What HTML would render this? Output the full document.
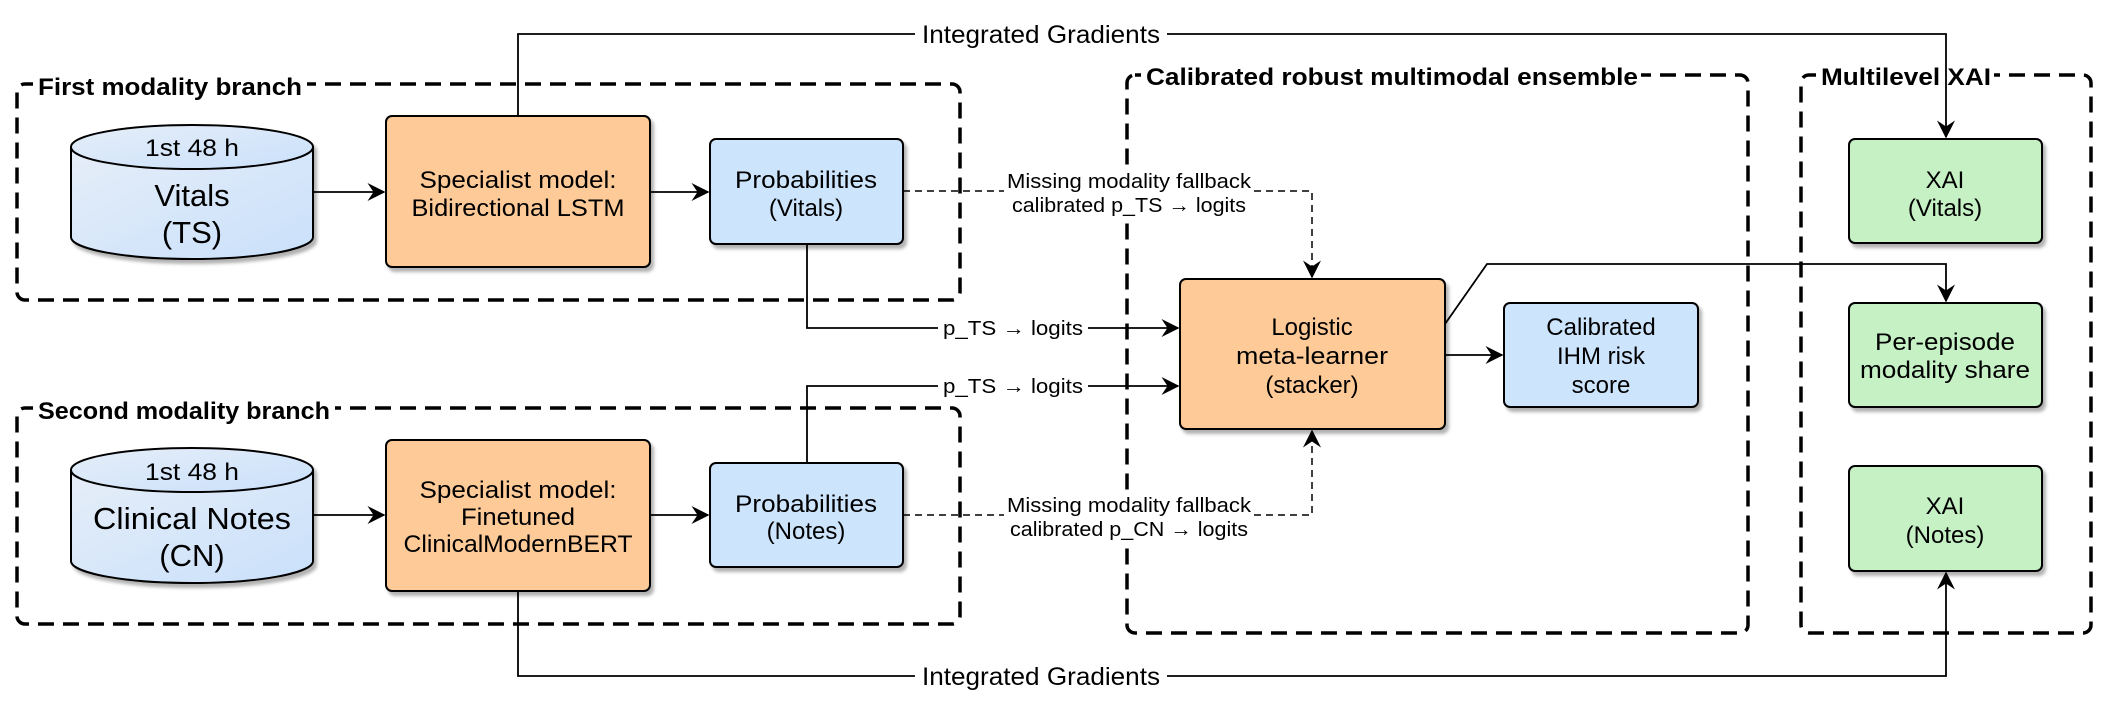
<!DOCTYPE html>
<html><head><meta charset="utf-8"><style>html,body{margin:0;padding:0;background:#fff}</style></head>
<body>
<svg width="2108" height="710" viewBox="0 0 2108 710" xmlns="http://www.w3.org/2000/svg" font-family="'Liberation Sans', 'DejaVu Sans', sans-serif">
<defs>
<linearGradient id="cyl" x1="0" y1="0" x2="1" y2="1"><stop offset="0" stop-color="#e6eef8"/><stop offset="1" stop-color="#c9e0fb"/></linearGradient>
<filter id="sh" x="-10%" y="-10%" width="130%" height="130%"><feDropShadow dx="3" dy="4" stdDeviation="1.5" flood-color="#000" flood-opacity="0.3"/></filter>
<marker id="arb" viewBox="0 0 12 12" refX="11" refY="6" markerWidth="18" markerHeight="18" markerUnits="userSpaceOnUse" orient="auto"><path d="M0,0 L12,6 L0,12 L4,6 z" fill="#000"/></marker>
</defs>

<g fill="none" stroke="#000" stroke-width="3.5" stroke-dasharray="16 9">
<rect x="17" y="84" width="943" height="216" rx="8"/>
<rect x="17" y="408" width="943" height="216" rx="8"/>
<rect x="1127" y="75" width="621" height="558" rx="8"/>
<rect x="1801" y="75" width="290" height="558" rx="8"/>
</g>
<g fill="#fff">
<rect x="33" y="70" width="274" height="30"/>
<rect x="33" y="394" width="302" height="30"/>
<rect x="1141" y="61" width="500" height="30"/>
<rect x="1816" y="61" width="178" height="30"/>
<rect x="1004" y="170" width="250" height="46"/>
<rect x="1004" y="494" width="250" height="46"/>
</g>
<g font-weight="bold" font-size="24" fill="#000">
<text x="38" y="95" textLength="264" lengthAdjust="spacingAndGlyphs">First modality branch</text>
<text x="38" y="419" textLength="292" lengthAdjust="spacingAndGlyphs">Second modality branch</text>
<text x="1146" y="85" textLength="492" lengthAdjust="spacingAndGlyphs">Calibrated robust multimodal ensemble</text>
<text x="1821" y="85" textLength="170" lengthAdjust="spacingAndGlyphs">Multilevel XAI</text>
</g>

<g fill="none" stroke="#000" stroke-width="1.8">
<path d="M518,116 V34 H915"/>
<path d="M1167,34 H1946 V137" marker-end="url(#arb)"/>
<path d="M518,591 V676 H915"/>
<path d="M1167,676 H1946 V573" marker-end="url(#arb)"/>
<path d="M313,192 H384" marker-end="url(#arb)"/>
<path d="M650,192 H708" marker-end="url(#arb)"/>
<path d="M313,515 H384" marker-end="url(#arb)"/>
<path d="M650,515 H708" marker-end="url(#arb)"/>
<path d="M807,244 V328 H938"/>
<path d="M1088,328 H1178" marker-end="url(#arb)"/>
<path d="M807,463 V386 H938"/>
<path d="M1088,386 H1178" marker-end="url(#arb)"/>
<path d="M1445,355 H1502" marker-end="url(#arb)"/>
<path d="M1445,324 L1487,264 H1946 V301" marker-end="url(#arb)"/>
</g>
<g fill="none" stroke="#000" stroke-width="1.5" stroke-dasharray="7 5">
<path d="M903,191 H1004"/>
<path d="M1254,191 H1312 V277" marker-end="url(#arb)"/>
<path d="M903,515 H1004"/>
<path d="M1254,515 H1312 V431" marker-end="url(#arb)"/>
</g>

<g font-size="25" text-anchor="middle" fill="#000">
<text x="1041" y="43" textLength="238" lengthAdjust="spacingAndGlyphs">Integrated Gradients</text>
<text x="1041" y="685" textLength="238" lengthAdjust="spacingAndGlyphs">Integrated Gradients</text>
</g>
<g font-size="20" text-anchor="middle" fill="#000">
<text x="1129" y="188" textLength="244" lengthAdjust="spacingAndGlyphs">Missing modality fallback</text>
<text x="1129" y="212" textLength="234" lengthAdjust="spacingAndGlyphs">calibrated p_TS → logits</text>
<text x="1129" y="512" textLength="244" lengthAdjust="spacingAndGlyphs">Missing modality fallback</text>
<text x="1129" y="536" textLength="238" lengthAdjust="spacingAndGlyphs">calibrated p_CN → logits</text>
<text x="1013" y="335" textLength="140" lengthAdjust="spacingAndGlyphs">p_TS → logits</text>
<text x="1013" y="393" textLength="140" lengthAdjust="spacingAndGlyphs">p_TS → logits</text>
</g>

<g stroke="#000" stroke-width="2" filter="url(#sh)">
<path d="M71,147 V237 A121,22 0 0 0 313,237 V147" fill="url(#cyl)"/>
<ellipse cx="192" cy="147" rx="121" ry="22" fill="url(#cyl)"/>
<path d="M71,470 V561 A121,22 0 0 0 313,561 V470" fill="url(#cyl)"/>
<ellipse cx="192" cy="470" rx="121" ry="22" fill="url(#cyl)"/>
</g>

<g stroke="#000" stroke-width="2" filter="url(#sh)">
<rect x="386" y="116" width="264" height="151" rx="6" fill="#fdca98"/>
<rect x="386" y="440" width="264" height="151" rx="6" fill="#fdca98"/>
<rect x="710" y="139" width="193" height="105" rx="6" fill="#cde4fd"/>
<rect x="710" y="463" width="193" height="104" rx="6" fill="#cde4fd"/>
<rect x="1180" y="279" width="265" height="150" rx="6" fill="#fdca98"/>
<rect x="1504" y="303" width="194" height="104" rx="6" fill="#cde4fd"/>
<rect x="1849" y="139" width="193" height="104" rx="6" fill="#c5f1c5"/>
<rect x="1849" y="303" width="193" height="104" rx="6" fill="#c5f1c5"/>
<rect x="1849" y="466" width="193" height="105" rx="6" fill="#c5f1c5"/>
</g>

<g font-size="24" text-anchor="middle" fill="#000">
<text x="192" y="156" textLength="94" lengthAdjust="spacingAndGlyphs">1st 48 h</text>
<text x="192" y="206" font-size="31">Vitals</text>
<text x="192" y="243" font-size="31">(TS)</text>
<text x="192" y="480" textLength="94" lengthAdjust="spacingAndGlyphs">1st 48 h</text>
<text x="192" y="529" font-size="31" textLength="198" lengthAdjust="spacingAndGlyphs">Clinical Notes</text>
<text x="192" y="566" font-size="31">(CN)</text>
<text x="518" y="188" textLength="197" lengthAdjust="spacingAndGlyphs">Specialist model:</text>
<text x="518" y="216" textLength="213" lengthAdjust="spacingAndGlyphs">Bidirectional LSTM</text>
<text x="518" y="498" textLength="197" lengthAdjust="spacingAndGlyphs">Specialist model:</text>
<text x="518" y="525" textLength="114" lengthAdjust="spacingAndGlyphs">Finetuned</text>
<text x="518" y="552" textLength="229" lengthAdjust="spacingAndGlyphs">ClinicalModernBERT</text>
<text x="806" y="188" textLength="142" lengthAdjust="spacingAndGlyphs">Probabilities</text>
<text x="806" y="216">(Vitals)</text>
<text x="806" y="512" textLength="142" lengthAdjust="spacingAndGlyphs">Probabilities</text>
<text x="806" y="539">(Notes)</text>
<text x="1312" y="335">Logistic</text>
<text x="1312" y="364" textLength="152" lengthAdjust="spacingAndGlyphs">meta-learner</text>
<text x="1312" y="393">(stacker)</text>
<text x="1601" y="335">Calibrated</text>
<text x="1601" y="364">IHM risk</text>
<text x="1601" y="393">score</text>
<text x="1945" y="188">XAI</text>
<text x="1945" y="216">(Vitals)</text>
<text x="1945" y="350" textLength="140" lengthAdjust="spacingAndGlyphs">Per-episode</text>
<text x="1945" y="378" textLength="170" lengthAdjust="spacingAndGlyphs">modality share</text>
<text x="1945" y="514">XAI</text>
<text x="1945" y="543">(Notes)</text>
</g>
</svg>
</body></html>
